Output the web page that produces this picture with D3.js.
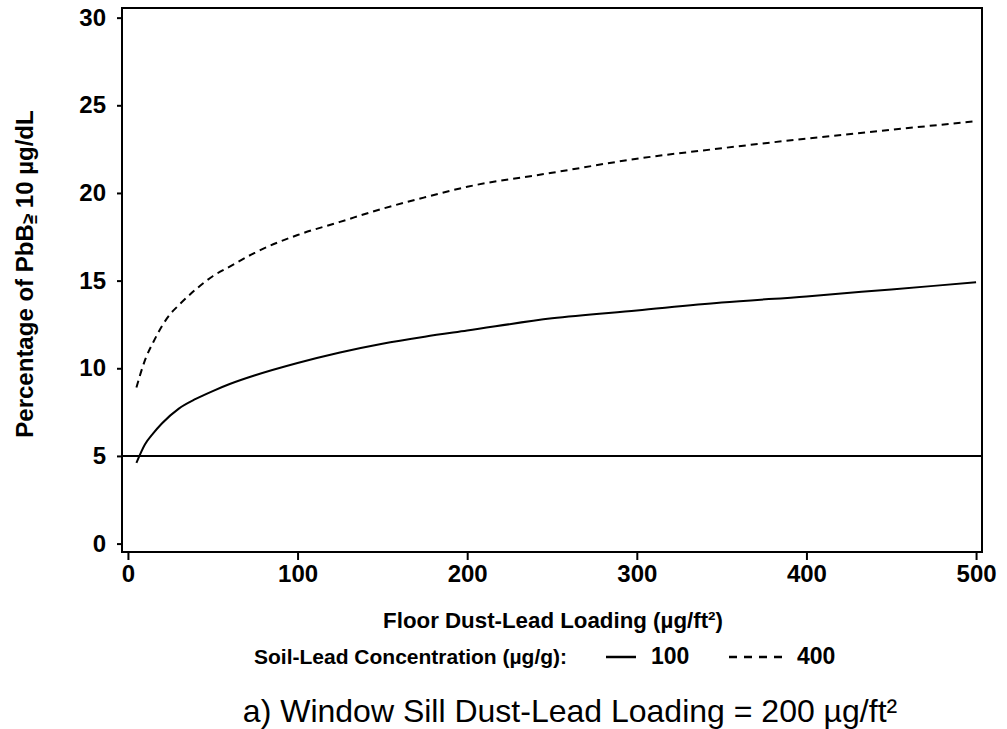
<!DOCTYPE html>
<html>
<head>
<meta charset="utf-8">
<script src="https://cdn.jsdelivr.net/npm/d3@7"></script>
<style>
  body { margin: 0; background: #fff; }
  svg { display: block; font-family: "Liberation Sans", Arial, Helvetica, sans-serif; }
</style>
</head>
<body>
<div id="chart"></div>
<script>
// floor dust-lead loading (ug/ft2)
var floorLoad100 = [5, 10, 15, 20, 30, 40, 50, 60, 75, 100, 125, 150, 175, 200, 250, 300, 350, 400, 450, 500];
var pct100 = [4.6, 5.65, 6.3, 6.85, 7.7, 8.25, 8.7, 9.1, 9.6, 10.3, 10.9, 11.4, 11.8, 12.15, 12.85, 13.3, 13.75, 14.1, 14.5, 14.9];

var floorLoad400 = [5, 10, 15, 20, 25, 30, 40, 50, 60, 75, 100, 125, 150, 175, 200, 250, 300, 350, 400, 450, 500];
var pct400 = [8.9, 10.45, 11.5, 12.4, 13.1, 13.6, 14.5, 15.25, 15.8, 16.6, 17.6, 18.35, 19.1, 19.75, 20.35, 21.15, 21.95, 22.55, 23.1, 23.6, 24.1];

var refLevel = 5;
var xTicks = [0, 100, 200, 300, 400, 500];
var yTicks = [0, 5, 10, 15, 20, 25, 30];
var soilLevels = ["100", "400"];

var W = 1007, H = 729;
var plotL = 122, plotR = 982, plotT = 8, plotB = 552;

var svg = d3.select("#chart").append("svg")
    .attr("width", W).attr("height", H);

/*scales: frame edges sit a little outside the tick range*/
var x = d3.scaleLinear().domain([-3.5, 503.5]).range([plotL, plotR]);
var y = d3.scaleLinear().domain([-0.48, 30.55]).range([plotB, plotT]);

/*Y axis*/
var yAxis = svg.append("g")
    .attr("transform", "translate(" + plotL + ",0)")
    .call(d3.axisLeft(y).tickValues(yTicks).tickSize(5).tickPadding(11));
yAxis.select(".domain").remove();
yAxis.selectAll("line").attr("stroke", "#000").attr("stroke-width", 2);
yAxis.selectAll("text")
    .attr("font-size", 24).attr("font-weight", "bold").attr("fill", "#000")
    .attr("font-family", "Liberation Sans, Arial, sans-serif");

/*X axis*/
var xAxis = svg.append("g")
    .attr("transform", "translate(0," + plotB + ")")
    .call(d3.axisBottom(x).tickValues(xTicks).tickSize(8).tickPadding(5));
xAxis.select(".domain").remove();
xAxis.selectAll("line").attr("stroke", "#000").attr("stroke-width", 2);
xAxis.selectAll("text")
    .attr("font-size", 24).attr("font-weight", "bold").attr("fill", "#000")
    .attr("font-family", "Liberation Sans, Arial, sans-serif");

/*frame*/
svg.append("rect")
    .attr("x", plotL).attr("y", plotT)
    .attr("width", plotR - plotL).attr("height", plotB - plotT)
    .attr("fill", "none").attr("stroke", "#000").attr("stroke-width", 2);

/*reference line at 5%*/
svg.append("line")
    .attr("x1", x(x.domain()[0])).attr("x2", x(x.domain()[1]))
    .attr("y1", y(refLevel)).attr("y2", y(refLevel))
    .attr("stroke", "#000").attr("stroke-width", 2);

var line = d3.line()
    .x(function(d) { return x(d[0]); })
    .y(function(d) { return y(d[1]); })
    .curve(d3.curveMonotoneX);

svg.append("path")
    .datum(d3.zip(floorLoad100, pct100))
    .attr("fill", "none").attr("stroke", "#000").attr("stroke-width", 2)
    .attr("d", line);

svg.append("path")
    .datum(d3.zip(floorLoad400, pct400))
    .attr("fill", "none").attr("stroke", "#000").attr("stroke-width", 2)
    .attr("stroke-dasharray", "7,5")
    .attr("d", line);

/*Y label*/
var yl = svg.append("text")
    .attr("transform", "translate(33,274) rotate(-90)")
    .attr("text-anchor", "middle")
    .attr("font-size", 24).attr("font-weight", "bold");
yl.append("tspan").text("Percentage of PbB");
yl.append("tspan").attr("font-size", 19).attr("dy", 1).text(">");
yl.append("tspan").attr("font-size", 16).attr("dx", -11).attr("dy", 6).text("=");
yl.append("tspan").attr("dy", -7).text(" 10 µg/dL");

/*X label*/
svg.append("text")
    .attr("x", 553).attr("y", 628)
    .attr("text-anchor", "middle")
    .attr("font-size", 22.3).attr("font-weight", "bold")
    .text("Floor Dust-Lead Loading (µg/ft²)");

/*legend*/
svg.append("text")
    .attr("x", 254).attr("y", 664)
    .attr("font-size", 21).attr("font-weight", "bold")
    .text("Soil-Lead Concentration (µg/g):");

var legendX = [606, 729];
var legendDash = [null, "8,7"];
var legendLen = [30, 53];
var leg = svg.selectAll(".leg").data(soilLevels).enter().append("g").attr("class", "leg");
leg.append("line")
    .attr("x1", function(d, i) { return legendX[i]; })
    .attr("x2", function(d, i) { return legendX[i] + legendLen[i]; })
    .attr("y1", 657).attr("y2", 657)
    .attr("stroke", "#000").attr("stroke-width", 2.5)
    .attr("stroke-dasharray", function(d, i) { return legendDash[i]; });
leg.append("text")
    .attr("x", function(d, i) { return legendX[i] + legendLen[i] + 15; })
    .attr("y", 664)
    .attr("font-size", 23).attr("font-weight", "bold")
    .text(function(d) { return d; });

/*title*/
svg.append("text")
    .attr("x", 570).attr("y", 722)
    .attr("text-anchor", "middle")
    .attr("font-size", 32)
    .text("a) Window Sill Dust-Lead Loading = 200 µg/ft²");
</script>
</body>
</html>
